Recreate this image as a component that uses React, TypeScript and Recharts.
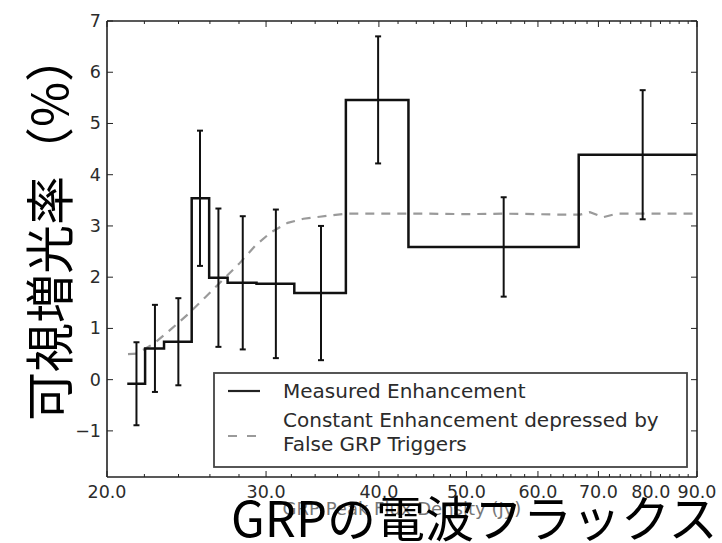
import React from "react";
import {
  ComposedChart,
  Line,
  Scatter,
  ErrorBar,
  XAxis,
  YAxis,
  Customized,
} from "recharts";

// histogram bin edges (Jy) and the measured enhancement of each bin (%)
const binEdges = [21.06, 22.04, 23.13, 24.82, 25.95, 27.2, 29.28, 32.24, 36.77, 43.13, 66.57, 90];
const binValues = [-0.08, 0.61, 0.74, 3.54, 1.99, 1.89, 1.87, 1.69, 5.46, 2.59, 4.39];

// mean flux of each bin with its 1-sigma error
const binCenters = [21.56, 22.6, 23.99, 25.35, 26.57, 28.27, 30.76, 34.51, 39.92, 54.98, 78.36];
const binErrors = [0.81, 0.85, 0.85, 1.32, 1.35, 1.3, 1.45, 1.31, 1.24, 0.97, 1.26];

// constant enhancement model, diluted by false triggers
const modelFlux = [21.1, 21.6, 22.6, 23.6, 24.6, 25.7, 26.8, 28.0, 29.2, 30.4, 31.7, 33.0, 34.4, 36.8, 40, 45, 50, 55, 60, 64, 66.8, 68.5, 70.8, 73.4, 78, 84, 90];
const modelValues = [0.5, 0.51, 0.72, 1.0, 1.28, 1.61, 1.93, 2.26, 2.62, 2.88, 3.06, 3.14, 3.18, 3.24, 3.24, 3.24, 3.23, 3.24, 3.23, 3.22, 3.22, 3.27, 3.17, 3.24, 3.24, 3.24, 3.24];

const xMajor = [20, 30, 40, 50, 60, 70, 80, 90];
const xMinor = [22, 24, 26, 28, 32, 34, 36, 38, 42, 44, 46, 48, 52, 54, 56, 58, 62, 64, 66, 68, 72, 74, 76, 78, 82, 84, 86, 88];
const yTicks = [-1, 0, 1, 2, 3, 4, 5, 6, 7];

const X_DOMAIN: [number, number] = [20, 90];
const Y_DOMAIN: [number, number] = [-1.9, 7];

const stepData = binEdges.map((x, i) => ({
  x,
  y: binValues[Math.min(i, binValues.length - 1)],
}));
const errData = binCenters.map((x, i) => ({ x, y: binValues[i], err: binErrors[i] }));
const modelData = modelFlux.map((x, i) => ({ x, y: modelValues[i] }));
const xTicks = [...xMajor, ...xMinor].sort((a, b) => a - b);

const INK = "#222";
const LABEL = "#2b2b2b";
const TICK_FONT = "'DejaVu Sans', sans-serif";
const JP_FONT = "'Noto Sans CJK JP', sans-serif";

const isMajor = (v: number) => xMajor.includes(v);

// ticks point inward, so each custom tick draws its own mark
function BottomTick(props: any) {
  const { x, y, payload } = props;
  const major = isMajor(payload.value);
  return (
    <g>
      <line x1={x} y1={y} x2={x} y2={y - (major ? 6 : 3)} stroke={INK} strokeWidth={1} />
      {major && (
        <text x={x} y={y + 21} textAnchor="middle" fontSize={17.5} fill={LABEL} fontFamily={TICK_FONT}>
          {payload.value.toFixed(1)}
        </text>
      )}
    </g>
  );
}

function TopTick(props: any) {
  const { x, y, payload } = props;
  const major = isMajor(payload.value);
  return <line x1={x} y1={y} x2={x} y2={y + (major ? 6 : 3)} stroke={INK} strokeWidth={1} />;
}

function LeftTick(props: any) {
  const { x, y, payload } = props;
  const v = payload.value as number;
  const label = v < 0 ? "\u2212" + Math.abs(v) : String(v);
  return (
    <g>
      <line x1={x} y1={y} x2={x + 6} y2={y} stroke={INK} strokeWidth={1} />
      <text x={x - 6} y={y + 6} textAnchor="end" fontSize={17.5} fill={LABEL} fontFamily={TICK_FONT}>
        {label}
      </text>
    </g>
  );
}

function RightTick(props: any) {
  const { x, y } = props;
  return <line x1={x} y1={y} x2={x - 6} y2={y} stroke={INK} strokeWidth={1} />;
}

// legend box and the axis titles
function Overlay() {
  return (
    <g>
      <rect x={214} y={373} width={473} height={94} fill="#fff" stroke="#444" strokeWidth={1.8} />
      <line x1={228} y1={391} x2={260} y2={391} stroke={INK} strokeWidth={2.2} />
      <text x={283} y={397.5} fontSize={20} fill={LABEL} fontFamily={TICK_FONT}>
        Measured Enhancement
      </text>
      <line x1={228} y1={436} x2={260} y2={436} stroke="#9a9a9a" strokeWidth={2} strokeDasharray="9 10" />
      <text x={283} y={427} fontSize={20} fill={LABEL} fontFamily={TICK_FONT}>
        Constant Enhancement depressed by
      </text>
      <text x={283} y={451} fontSize={20} fill={LABEL} fontFamily={TICK_FONT}>
        False GRP Triggers
      </text>

      <text x={402} y={515} textAnchor="middle" fontSize={18} fill="#777" fontFamily={TICK_FONT}>
        GRP Peak Flux Density (Jy)
      </text>
      <text x={231} y={537} fontSize={49} fill="#000" fontFamily={JP_FONT}>
        GRPの電波フラックス
      </text>
      <text
        transform="translate(46,227) rotate(-90)"
        textAnchor="middle"
        dominantBaseline="central"
        fontSize={49}
        fill="#000"
        fontFamily={JP_FONT}
      >
        可視増光率（%）
      </text>
    </g>
  );
}

const axisLine = { stroke: INK, strokeWidth: 1.6 };

export default function App() {
  return (
    <div style={{ position: "absolute", left: 0, top: 0, background: "#fff" }}>
      <ComposedChart width={722} height={543} margin={{ top: 20, right: 24, bottom: 65, left: 106 }}>
        <XAxis
          xAxisId="bottom"
          dataKey="x"
          type="number"
          scale="log"
          domain={X_DOMAIN}
          allowDataOverflow
          ticks={xTicks}
          interval={0}
          height={1}
          tickSize={0}
          tickMargin={0}
          tickLine={false}
          axisLine={axisLine}
          tick={<BottomTick />}
        />
        <XAxis
          xAxisId="top"
          orientation="top"
          dataKey="x"
          type="number"
          scale="log"
          domain={X_DOMAIN}
          allowDataOverflow
          ticks={xTicks}
          interval={0}
          height={1}
          tickSize={0}
          tickMargin={0}
          tickLine={false}
          axisLine={axisLine}
          tick={<TopTick />}
        />
        <YAxis
          yAxisId="left"
          type="number"
          domain={Y_DOMAIN}
          allowDataOverflow
          ticks={yTicks}
          interval={0}
          width={1}
          tickSize={0}
          tickMargin={0}
          tickLine={false}
          axisLine={axisLine}
          tick={<LeftTick />}
        />
        <YAxis
          yAxisId="right"
          orientation="right"
          type="number"
          domain={Y_DOMAIN}
          allowDataOverflow
          ticks={yTicks}
          interval={0}
          width={1}
          tickSize={0}
          tickMargin={0}
          tickLine={false}
          axisLine={axisLine}
          tick={<RightTick />}
        />

        <Line
          xAxisId="bottom"
          yAxisId="left"
          data={modelData}
          dataKey="y"
          type="linear"
          stroke="#9a9a9a"
          strokeWidth={2.2}
          strokeDasharray="9 7"
          dot={false}
          activeDot={false}
          isAnimationActive={false}
        />
        <Line
          xAxisId="bottom"
          yAxisId="left"
          data={stepData}
          dataKey="y"
          type="stepAfter"
          stroke="#111"
          strokeWidth={2.5}
          dot={false}
          activeDot={false}
          isAnimationActive={false}
        />
        <Scatter
          xAxisId="bottom"
          yAxisId="left"
          data={errData}
          dataKey="y"
          shape={() => <g />}
          isAnimationActive={false}
        >
          <ErrorBar dataKey="err" direction="y" width={3} stroke="#111" strokeWidth={2} isAnimationActive={false} />
        </Scatter>
        <Customized component={Overlay} />
      </ComposedChart>
    </div>
  );
}
